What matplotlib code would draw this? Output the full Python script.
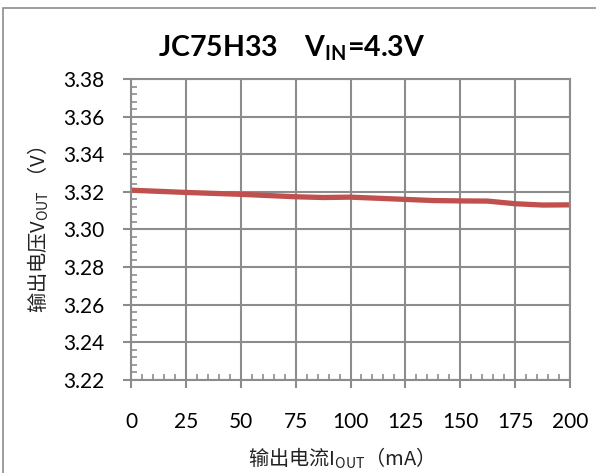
import numpy as np
import matplotlib
matplotlib.use('Agg')
import matplotlib.pyplot as plt
from matplotlib.patches import Rectangle
from matplotlib.ticker import MultipleLocator

plt.rcParams['font.family'] = ['Lato', 'Noto Sans CJK SC', 'DejaVu Sans']
plt.rcParams['mathtext.fontset'] = 'custom'
plt.rcParams['mathtext.rm'] = 'Noto Sans CJK SC'
plt.rcParams['mathtext.bf'] = 'Lato:bold'

# 数据
i_out = [0, 25, 50, 75, 87.5, 100, 125, 137.5, 150, 162.5, 175, 187.5, 200]
v_out = [3.3209, 3.3197, 3.3187, 3.3174, 3.3170, 3.3172, 3.3160, 3.3154, 3.3152, 3.3151, 3.3137, 3.3130, 3.3131]

title = r'JC75H33    V$_{\mathbf{IN}}$=4.3V'
xlabel = r'输出电流I$_{\mathrm{OUT}}$（mA）'
ylabel = r'输出电压V$_{\mathrm{OUT}}$ （V）'

grid_c = '#8c8c8c'

fig = plt.figure(figsize=(5.96, 4.73), dpi=100)
ax = fig.add_axes([131/596, 1-380/473, 439/596, 301/473])

ax.plot(i_out, v_out, color='#C0504D', linewidth=3.8, solid_capstyle='butt')

ax.set_xlim(0, 200)
ax.set_ylim(3.22, 3.38)
ax.xaxis.set_major_locator(MultipleLocator(25))
ax.xaxis.set_minor_locator(MultipleLocator(5))
ax.yaxis.set_major_locator(MultipleLocator(0.02))
ax.yaxis.set_minor_locator(MultipleLocator(0.004))
ax.yaxis.set_major_formatter(plt.FormatStrFormatter('%.2f'))

ax.grid(True, which='major', color=grid_c, linewidth=1.5)
ax.set_axisbelow(True)
for s in ax.spines.values():
    s.set_color(grid_c)
    s.set_linewidth(1.5)

ax.tick_params(which='major', direction='out', length=6, width=1.5, color=grid_c,
               labelsize=15, pad=13)
ax.tick_params(axis='x', which='major', pad=17)
ax.tick_params(which='minor', direction='in', length=4, width=1.2, color=grid_c)

ax.set_xlabel(xlabel, fontsize=14.5, color='#222222', family=['Noto Sans CJK SC'])
ax.xaxis.set_label_coords((336-131)/439, (380-446)/301)
ax.set_ylabel(ylabel, fontsize=14.5, color='#222222', labelpad=9, family=['Noto Sans CJK SC'])
fig.text(292/596, 1-48/473, title, fontsize=20.5, fontweight='bold', ha='center', va='center',
         family=['Lato'])

# 外框
fig.patches.append(Rectangle((3/596, -0.02), 1.0, 1-8/473+0.02, transform=fig.transFigure,
                             fill=False, edgecolor='#8c8c8c', linewidth=1.2))

fig.savefig('out.png', dpi=100)
